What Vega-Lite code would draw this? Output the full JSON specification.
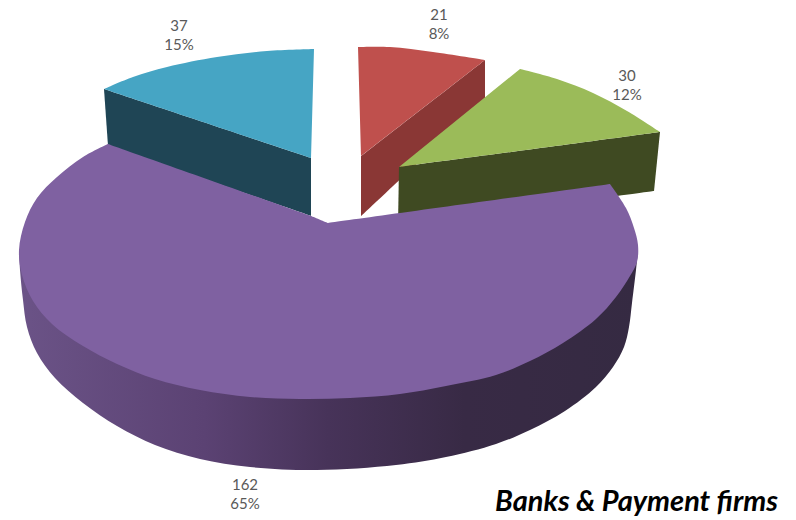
{"$schema":"https://vega.github.io/schema/vega-lite/v6.json","width":796,"height":520,"padding":0,"autosize":{"type":"none"},"background":"white","config":{"view":{"stroke":null}},
"datasets":{
"flat":[
{"part":"red side","step":1,"px":485,"py":60},{"part":"red side","step":2,"px":485,"py":60},{"part":"red side","step":3,"px":361,"py":156},{"part":"red side","step":4,"px":361,"py":156},{"part":"red side","step":5,"px":361,"py":216},{"part":"red side","step":6,"px":361,"py":216},{"part":"red side","step":7,"px":485,"py":100},{"part":"red side","step":8,"px":485,"py":100},
{"part":"red top","step":1,"px":358,"py":47},{"part":"red top","step":2,"px":358,"py":47},{"part":"red top","step":3,"px":390,"py":47},{"part":"red top","step":4,"px":433,"py":52},{"part":"red top","step":5,"px":485,"py":60},{"part":"red top","step":6,"px":485,"py":60},{"part":"red top","step":7,"px":361,"py":156},{"part":"red top","step":8,"px":361,"py":156},
{"part":"green side","step":1,"px":660,"py":132},{"part":"green side","step":2,"px":660,"py":132},{"part":"green side","step":3,"px":399,"py":167},{"part":"green side","step":4,"px":399,"py":167},{"part":"green side","step":5,"px":398,"py":225},{"part":"green side","step":6,"px":398,"py":225},{"part":"green side","step":7,"px":654,"py":191},{"part":"green side","step":8,"px":654,"py":191},
{"part":"green top","step":1,"px":520,"py":69},{"part":"green top","step":2,"px":520,"py":69},{"part":"green top","step":3,"px":557,"py":79},{"part":"green top","step":4,"px":593,"py":93},{"part":"green top","step":5,"px":627,"py":111},{"part":"green top","step":6,"px":660,"py":132},{"part":"green top","step":7,"px":660,"py":132},{"part":"green top","step":8,"px":399,"py":167},{"part":"green top","step":9,"px":399,"py":167},
{"part":"blue side","step":1,"px":104,"py":89},{"part":"blue side","step":2,"px":104,"py":89},{"part":"blue side","step":3,"px":311,"py":158},{"part":"blue side","step":4,"px":311,"py":158},{"part":"blue side","step":5,"px":311,"py":216},{"part":"blue side","step":6,"px":311,"py":216},{"part":"blue side","step":7,"px":108,"py":146},{"part":"blue side","step":8,"px":108,"py":146},
{"part":"blue top","step":1,"px":314,"py":49},{"part":"blue top","step":2,"px":314,"py":49},{"part":"blue top","step":3,"px":267,"py":51},{"part":"blue top","step":4,"px":217,"py":57},{"part":"blue top","step":5,"px":167,"py":67},{"part":"blue top","step":6,"px":133,"py":77},{"part":"blue top","step":7,"px":104,"py":89},{"part":"blue top","step":8,"px":104,"py":89},{"part":"blue top","step":9,"px":311,"py":158},{"part":"blue top","step":10,"px":311,"py":158}
],
"wall":[
{"step":1,"px":19,"py":250},{"step":2,"px":20,"py":270},{"step":3,"px":23,"py":300},{"step":4,"px":27,"py":327},{"step":5,"px":37,"py":353},{"step":6,"px":55,"py":378},{"step":7,"px":83,"py":403},{"step":8,"px":117,"py":426},{"step":9,"px":155,"py":445},{"step":10,"px":200,"py":459},{"step":11,"px":250,"py":467},{"step":12,"px":317,"py":470},{"step":13,"px":396,"py":465},{"step":14,"px":446,"py":457},{"step":15,"px":496,"py":444},{"step":16,"px":530,"py":430},{"step":17,"px":565,"py":411},{"step":18,"px":596,"py":387},{"step":19,"px":613,"py":367},{"step":20,"px":624,"py":347},{"step":21,"px":629,"py":327},{"step":22,"px":632,"py":303},{"step":23,"px":636,"py":270},{"step":24,"px":638,"py":250}
],
"face":[
{"step":1,"px":328,"py":223},{"step":2,"px":328,"py":223},{"step":3,"px":311,"py":216},{"step":4,"px":311,"py":216},{"step":5,"px":108,"py":144},{"step":6,"px":108,"py":144},{"step":7,"px":83,"py":157},{"step":8,"px":57,"py":177},{"step":9,"px":37,"py":198},{"step":10,"px":25,"py":222},{"step":11,"px":19,"py":250},{"step":12,"px":22,"py":275},{"step":13,"px":33,"py":301},{"step":14,"px":52,"py":324},{"step":15,"px":83,"py":346},{"step":16,"px":117,"py":364},{"step":17,"px":155,"py":379},{"step":18,"px":200,"py":390},{"step":19,"px":250,"py":397},{"step":20,"px":300,"py":399},{"step":21,"px":350,"py":398},{"step":22,"px":400,"py":394},{"step":23,"px":446,"py":386},{"step":24,"px":496,"py":375},{"step":25,"px":530,"py":361},{"step":26,"px":563,"py":343},{"step":27,"px":596,"py":319},{"step":28,"px":616,"py":297},{"step":29,"px":630,"py":276},{"step":30,"px":637,"py":262},{"step":31,"px":638,"py":245},{"step":32,"px":634,"py":228},{"step":33,"px":626,"py":208},{"step":34,"px":610,"py":184},{"step":35,"px":610,"py":184},{"step":36,"px":328,"py":223},{"step":37,"px":328,"py":223}
],
"labels":[
{"count":21,"share":"8%","label":"21\n8%","lx":439,"ly":8},
{"count":30,"share":"12%","label":"30\n12%","lx":627,"ly":69},
{"count":37,"share":"15%","label":"37\n15%","lx":179,"ly":19},
{"count":162,"share":"65%","label":"162\n65%","lx":245,"ly":478}
],
"note":[{"text":"Banks & Payment firms","lx":495,"ly":502}]
},
"encoding":{
"x":{"field":"px","type":"quantitative","scale":{"domain":[0,796]},"axis":null},
"y":{"field":"py","type":"quantitative","scale":{"domain":[520,0]},"axis":null}
},
"layer":[
{"data":{"name":"flat"},"mark":{"type":"line","strokeWidth":0,"interpolate":"catmull-rom"},"encoding":{"order":{"field":"step","type":"quantitative"},"detail":{"field":"part"},"fill":{"field":"part","type":"nominal","legend":null,"scale":{"domain":["red side","red top","green side","green top","blue side","blue top"],"range":["#8a3735","#bf504d","#3f4a22","#9bbb59","#1f4555","#46a5c4"]}}}},
{"data":{"name":"wall"},"mark":{"type":"line","strokeWidth":0,"interpolate":"catmull-rom","fill":{"gradient":"linear","x1":0,"y1":0,"x2":1,"y2":0,"stops":[{"offset":0,"color":"#6b5387"},{"offset":0.3,"color":"#5b4273"},{"offset":0.5,"color":"#473359"},{"offset":0.72,"color":"#382a45"},{"offset":1,"color":"#352a42"}]}},"encoding":{"order":{"field":"step","type":"quantitative"}}},
{"data":{"name":"face"},"mark":{"type":"line","strokeWidth":0,"interpolate":"catmull-rom","fill":"#7f61a1"},"encoding":{"order":{"field":"step","type":"quantitative"}}},
{"data":{"name":"labels"},"mark":{"type":"text","font":"Lato","fontSize":15,"lineHeight":19,"lineBreak":"\n","align":"center","baseline":"top","color":"#595959"},"encoding":{"x":{"field":"lx","type":"quantitative"},"y":{"field":"ly","type":"quantitative"},"text":{"field":"label"}}},
{"data":{"name":"note"},"mark":{"type":"text","font":"Lato","fontSize":29,"fontWeight":"bold","fontStyle":"italic","align":"left","baseline":"middle","color":"black"},"encoding":{"x":{"field":"lx","type":"quantitative"},"y":{"field":"ly","type":"quantitative"},"text":{"field":"text"}}}
]}
